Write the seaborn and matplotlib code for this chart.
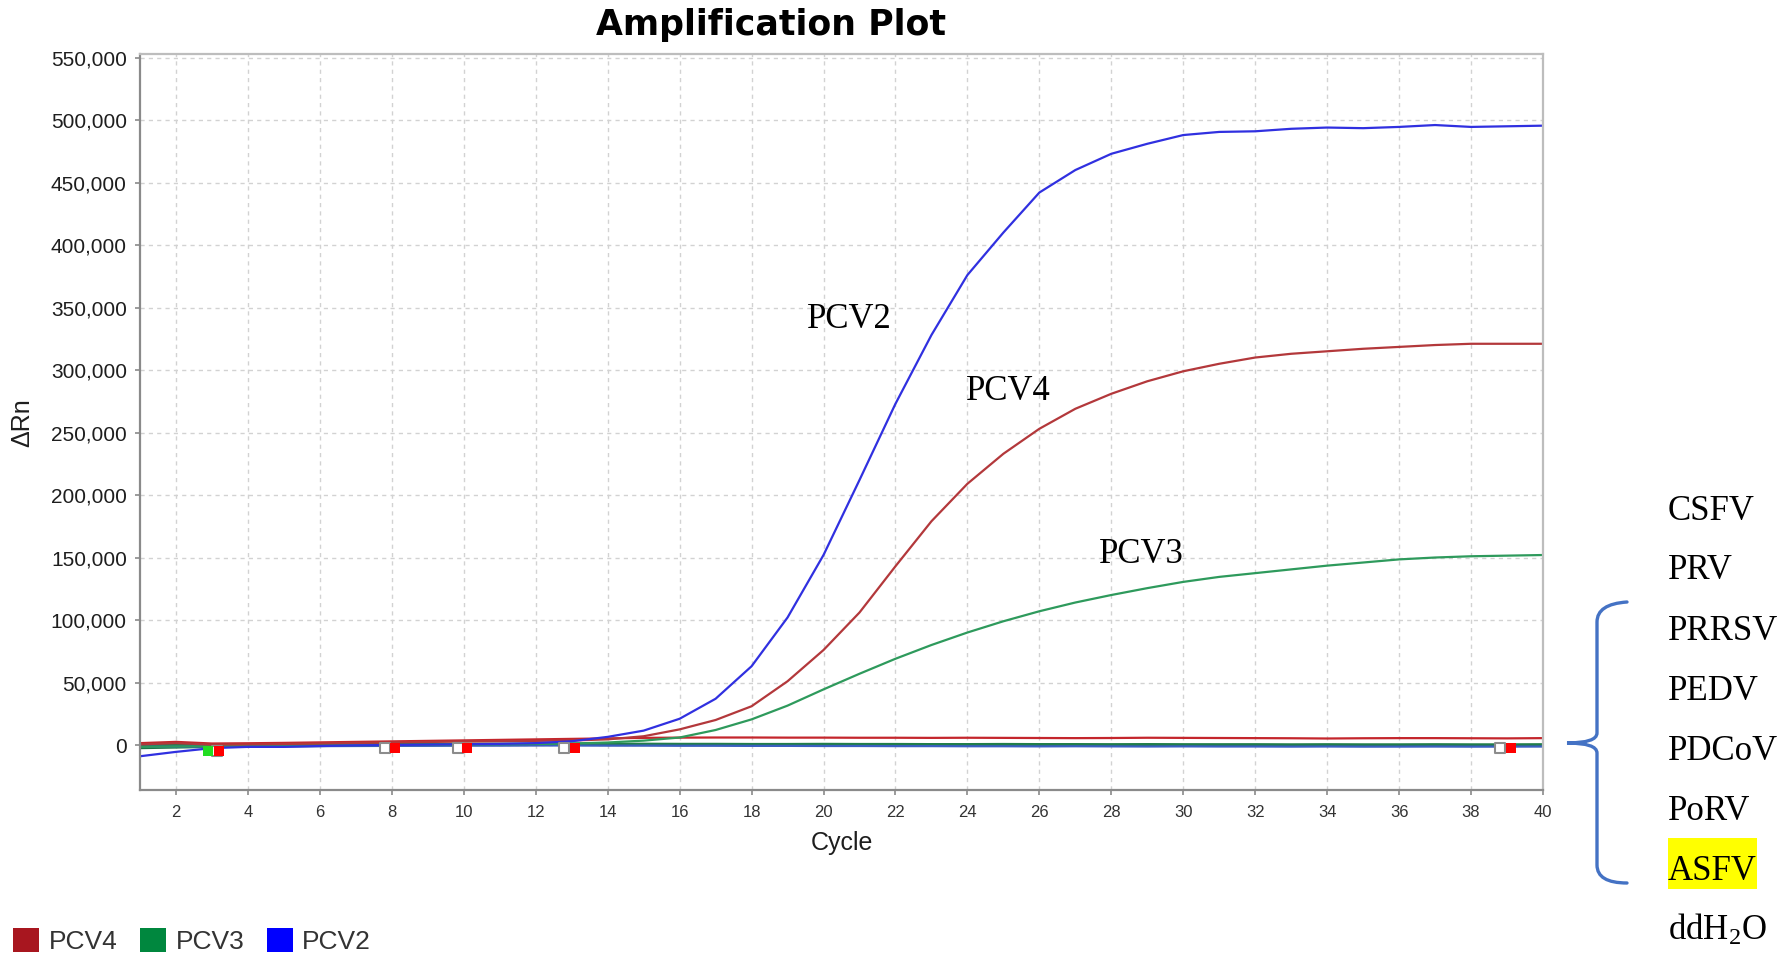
import numpy as np
import pandas as pd
import matplotlib
matplotlib.use("Agg")
import matplotlib.pyplot as plt
import seaborn as sns
from matplotlib.patches import Patch, Rectangle, PathPatch
from matplotlib.path import Path

# =========================
# DATA
# =========================

cycles = list(range(1, 41))

pcv2 = [-9000, -5500, -2500, -1500, -1500, -800, -300, 0, 300, 600,
        900, 1500, 3000, 6500, 11500, 21000, 37000, 63000, 102000, 152000,
        212000, 273000, 328000, 376000, 410000, 442000, 460000, 473000, 481000, 488000,
        490500, 491000, 493000, 494000, 493500, 494500, 496000, 494500, 495000, 495500]

pcv4 = [500, 1500, 300, 500, 800, 1200, 1600, 2000, 2400, 2800,
        3000, 3300, 3600, 4500, 7000, 12500, 20000, 31000, 51000, 76000,
        106000, 143000, 179000, 209000, 233000, 253000, 269000, 281000, 291000, 299000,
        305000, 310000, 313000, 315000, 317000, 318500, 320000, 321000, 321000, 321000]

pcv3 = [-1500, -1200, -1000, -800, -600, -400, -200, 0, 200, 400,
        600, 800, 1200, 2000, 3500, 6000, 12000, 20500, 31500, 44500,
        57000, 69000, 80000, 90000, 99000, 107000, 114000, 120000, 125500, 130500,
        134500, 137500, 140500, 143500, 146000, 148500, 150000, 151000, 151500, 152000]

# negative samples (flat traces near zero)
neg_red = [1500, 2500, 1200, 1400, 1700, 2100, 2500, 2900, 3300, 3700,
           4100, 4500, 4900, 5300, 5700, 5900, 6000, 6000, 5900, 5900,
           5800, 5800, 5700, 5800, 5700, 5600, 5500, 5600, 5800, 5700,
           5600, 5500, 5400, 5200, 5400, 5500, 5500, 5400, 5300, 5500]

neg_green_a = [-2500, -2000, -1500, -1200, -1000, -800, -500, -300, -200, 0,
               100, 200, 300, 400, 400, 500, 500, 400, 400, 300,
               300, 200, 200, 100, 100, 0, 0, 100, 0, 0,
               -100, 0, -100, -200, -200, -100, -200, -300, -200, -200]

neg_green_b = [-1000, -900, -700, -600, -500, -400, -300, -200, -100, 0,
               0, 100, 100, 0, 0, -100, -100, -200, -200, -300,
               -300, -400, -300, -400, -500, -500, -600, -500, -600, -600,
               -700, -600, -700, -700, -800, -700, -800, -800, -700, -800]

neg_green_c = [500, 400, 400, 500, 600, 700, 800, 900, 900, 1000,
               1000, 1100, 1100, 1000, 1000, 900, 900, 800, 800, 900,
               800, 800, 700, 700, 800, 700, 700, 600, 700, 600,
               600, 600, 500, 600, 500, 500, 600, 500, 500, 600]

neg_blue = [-1500, -1300, -1200, -1100, -1000, -900, -800, -700, -600, -500,
            -500, -400, -400, -500, -500, -600, -600, -700, -700, -800,
            -800, -900, -900, -1000, -1000, -1100, -1000, -1100, -1200, -1100,
            -1200, -1200, -1300, -1200, -1300, -1300, -1200, -1300, -1300, -1200]

# baseline markers
gray_marker_x = [3.15, 7.8, 9.85, 12.8, 38.8]
gray_marker_y = [-5000, -2500, -2500, -2500, -2500]
red_marker_x = [3.2, 8.1, 10.1, 13.1, 39.1]
red_marker_y = [-5000, -2500, -2500, -2500, -2500]
green_marker_x = [2.9]
green_marker_y = [-5000]

legend_labels = ["PCV4", "PCV3", "PCV2"]
sample_labels = ["CSFV", "PRV", "PRRSV", "PEDV", "PDCoV", "PoRV", "ASFV",
                 "ddH$\\mathregular{_2}$O"]

# =========================
# LONG TABLE
# =========================

traces = {
    "neg_green_a": neg_green_a,
    "neg_green_b": neg_green_b,
    "neg_green_c": neg_green_c,
    "neg_blue": neg_blue,
    "neg_red": neg_red,
    "PCV3": pcv3,
    "PCV4": pcv4,
    "PCV2": pcv2,
}

frames = []
for name, vals in traces.items():
    frames.append(pd.DataFrame({"Cycle": cycles, "dRn": vals, "trace": name}))
df = pd.concat(frames, ignore_index=True)

palette = {
    "neg_green_a": "#1B7545",
    "neg_green_b": "#1B7545",
    "neg_green_c": "#217D4A",
    "neg_blue": "#3A5FC0",
    "neg_red": "#C4262C",
    "PCV3": "#2E9A5C",
    "PCV4": "#B3383B",
    "PCV2": "#3030E0",
}

# =========================
# FIGURE
# =========================

W, H = 1784, 966
sns.set_theme(style="white")
plt.rcParams["font.family"] = ["Liberation Sans", "DejaVu Sans"]
plt.rcParams["text.color"] = "black"

fig = plt.figure(figsize=(W / 100, H / 100), dpi=100)
ax = fig.add_axes([140 / W, 1 - 790 / H, (1543 - 140) / W, (790 - 54.3) / H])

sns.lineplot(
    data=df,
    x="Cycle",
    y="dRn",
    hue="trace",
    palette=palette,
    estimator=None,
    legend=False,
    linewidth=1.6,
    ax=ax
)

# baseline markers
ax.scatter(gray_marker_x, gray_marker_y, marker="s", s=60, facecolor="white",
           edgecolor="#8C8C8C", linewidth=1.5, zorder=5)
ax.scatter(red_marker_x, red_marker_y, marker="s", s=60, color="#FF0000",
           linewidth=0, zorder=6)
ax.scatter(green_marker_x, green_marker_y, marker="s", s=60, color="#22DD22",
           linewidth=0, zorder=7)

ax.set_xlim(1, 40)
ax.set_ylim(-36000, 552600)
ax.set_xticks(range(2, 41, 2))
ax.set_yticks(range(0, 550001, 50000))
ax.yaxis.set_major_formatter(matplotlib.ticker.FuncFormatter(lambda v, p: f"{int(v):,}"))

ax.grid(True, color="#D2D2D2", linestyle=(0, (3, 3)), linewidth=1.0)
ax.set_axisbelow(True)

for side in ["top", "right"]:
    ax.spines[side].set_color("#BDBDBD")
    ax.spines[side].set_linewidth(1.6)
for side in ["left", "bottom"]:
    ax.spines[side].set_color("#8A8A8A")
    ax.spines[side].set_linewidth(1.6)

ax.tick_params(axis="y", which="major", left=True, length=3.5, width=1.2,
               color="#8A8A8A", labelsize=15, labelcolor="#1E1E1E", pad=6)
ax.tick_params(axis="x", which="major", bottom=True, length=3.5, width=1.2,
               color="#8A8A8A", labelsize=12, labelcolor="#333333", pad=7)

ax.set_xlabel("Cycle", fontsize=18, color="#1E1E1E", labelpad=8)
ax.set_ylabel("ΔRn", fontsize=18, color="#1E1E1E", labelpad=12)

# curve labels
ax.text(19.53, 333600, "PCV2", family="Liberation Serif", fontsize=25,
        ha="left", va="baseline", color="black")
ax.text(23.97, 276000, "PCV4", family="Liberation Serif", fontsize=25,
        ha="left", va="baseline", color="black")
ax.text(27.67, 145900, "PCV3", family="Liberation Serif", fontsize=25,
        ha="left", va="baseline", color="black")

# title
fig.text(771 / W, 1 - 35 / H, "Amplification Plot", family="DejaVu Sans",
         fontsize=25, fontweight="bold", ha="center", va="baseline", color="black")

# =========================
# LEGEND
# =========================

handles = [
    Patch(facecolor="#A8161F", edgecolor="none"),
    Patch(facecolor="#00873E", edgecolor="none"),
    Patch(facecolor="#0000FF", edgecolor="none"),
]
fig.legend(
    handles,
    legend_labels,
    loc="center left",
    bbox_to_anchor=(13 / W, 1 - 941 / H),
    ncol=3,
    frameon=False,
    fontsize=19,
    handlelength=1.0,
    handleheight=1.0,
    handletextpad=0.35,
    columnspacing=0.85,
    borderpad=0,
    borderaxespad=0,
    labelcolor="#333333",
)

# =========================
# SAMPLE LIST AND BRACE
# =========================

fig.patches.append(Rectangle((1668 / W, 1 - 889 / H), 89 / W, 51 / H,
                             transform=fig.transFigure, facecolor="#FFFF00",
                             edgecolor="none", zorder=0))

baselines = [520, 579.3, 640, 700, 760, 820, 880, 940]
for label, yb in zip(sample_labels, baselines):
    fig.text(1668 / W, 1 - yb / H, label, family="Liberation Serif",
             fontsize=25, ha="left", va="baseline", zorder=2, color="black")

pts = [(1627, 602), (1597, 604), (1597, 622), (1597, 733),
       (1597, 743), (1567, 743), (1597, 743), (1597, 753),
       (1597, 865), (1597, 883), (1627, 883)]
pts = [(x / W, 1 - y / H) for x, y in pts]
codes = [Path.MOVETO, Path.CURVE3, Path.CURVE3, Path.LINETO,
         Path.CURVE3, Path.CURVE3, Path.CURVE3, Path.CURVE3,
         Path.LINETO, Path.CURVE3, Path.CURVE3]
brace = PathPatch(Path(pts, codes), transform=fig.transFigure, facecolor="none",
                  edgecolor="#4472C4", linewidth=2.4, capstyle="round")
fig.patches.append(brace)

fig.savefig("out.png", dpi=100)
